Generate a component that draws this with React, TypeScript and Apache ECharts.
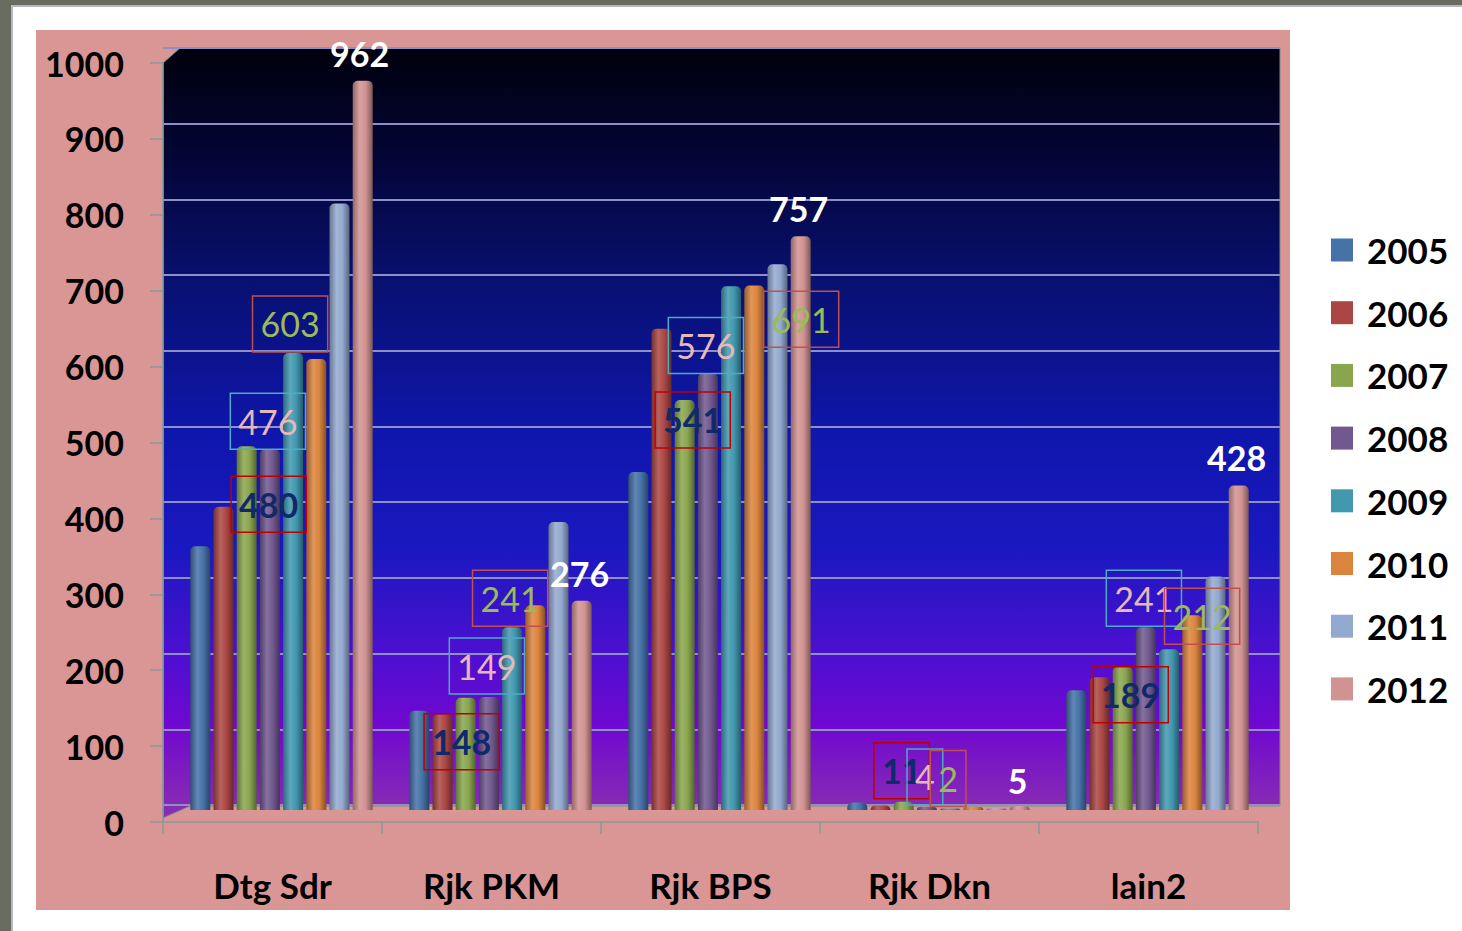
import React, { useEffect, useRef } from "react";
import * as echarts from "echarts";

const categories = ["Dtg Sdr", "Rjk PKM", "Rjk BPS", "Rjk Dkn", "lain2"];
const years = ["2005", "2006", "2007", "2008", "2009", "2010", "2011", "2012"];
const v2005 = [348, 131, 446, 10, 158];
const v2006 = [400, 126, 635, 6, 175];
const v2007 = [480, 148, 541, 11, 189];
const v2008 = [476, 149, 576, 4, 241];
const v2009 = [603, 241, 691, 2, 212];
const v2010 = [595, 270, 692, 4, 257];
const v2011 = [800, 380, 720, 2, 308];
const v2012 = [962, 276, 757, 5, 428];
const yTicks = [0, 100, 200, 300, 400, 500, 600, 700, 800, 900, 1000];

const seriesValues = [v2005, v2006, v2007, v2008, v2009, v2010, v2011, v2012];
const colors = ["#4572a7", "#aa4643", "#89a54e", "#71588f", "#4198af", "#db843d", "#93a9cf", "#d19392"];

// label nudges (layout only)
const nudges: Record<number, number[][]> = {
  2: [[22, 86], [-4, 72], [8, 48], [-2, -3], [8, 56]],
  3: [[-2, 0], [-2, -3], [-2, 0], [-2, -2], [-2, -1]],
  4: [[-3, -1], [-2, -1], [70, 61], [-2, -2], [33, -5]],
  7: [[-3, -7], [-2, -7], [-2, -8], [-2, -6], [-2, -8]],
};

function mix(hex: string, target: number, t: number) {
  const n = parseInt(hex.slice(1), 16);
  const r = (n >> 16) & 255, g = (n >> 8) & 255, b = n & 255;
  const f = (c: number) => Math.round(c + (target - c) * t);
  return `rgb(${f(r)},${f(g)},${f(b)})`;
}

const FONT = "Lato, 'Open Sans', sans-serif";

export default function App() {
  const ref = useRef<HTMLDivElement>(null);
  useEffect(() => {
    if (!ref.current) return;
    const chart = echarts.init(ref.current, null, { renderer: "svg" });

    const labelStyles: Record<number, any> = {
      2: { color: "#10296a", fontWeight: "bold", borderColor: "#c00000", borderWidth: 1.5, padding: [8, 8] },
      3: { color: "#e6b9b8", fontWeight: "normal", borderColor: "#4bacc6", borderWidth: 1.5, padding: [8, 8] },
      4: { color: "#9bbb59", fontWeight: "normal", borderColor: "#c0504d", borderWidth: 1.5, padding: [8, 8] },
      7: { color: "#ffffff", fontWeight: "bold" },
    };

    const barSeries = years.map((y, k) => {
      const c = colors[k];
      const grad = new echarts.graphic.LinearGradient(0, 0, 1, 0, [
        { offset: 0, color: mix(c, 0, 0.3) },
        { offset: 0.35, color: mix(c, 255, 0.15) },
        { offset: 0.65, color: c },
        { offset: 1, color: mix(c, 0, 0.4) },
      ]);
      const ls = labelStyles[k];
      return {
        name: y,
        type: "bar",
        xAxisIndex: 1,
        yAxisIndex: 1,
        barWidth: 20,
        barGap: "16%",
        z: 5,
        itemStyle: { color: grad, borderRadius: [5, 5, 0, 0] },
        data: seriesValues[k].map((v, i) => {
          const item: any = { value: v };
          if (ls) {
            item.label = {
              show: true,
              position: "top",
              distance: 0,
              offset: nudges[k][i],
              fontFamily: FONT,
              fontSize: 34,
              lineHeight: 40,
              ...ls,
            };
          }
          return item;
        }),
      };
    });

    const option: any = {
      animation: false,
      backgroundColor: "#ffffff",
      graphic: [
        { type: "rect", z: -10, silent: true, shape: { x: 0, y: 0, width: 1462, height: 5 }, style: { fill: "#686b5f" } },
        { type: "rect", z: -10, silent: true, shape: { x: 0, y: 0, width: 11, height: 931 }, style: { fill: "#686b5f" } },
        { type: "rect", z: -10, silent: true, shape: { x: 11, y: 5, width: 2, height: 926 }, style: { fill: "#b8b8b8" } },
        { type: "rect", z: -10, silent: true, shape: { x: 11, y: 5, width: 1451, height: 2 }, style: { fill: "#b8b8b8" } },
        { type: "rect", z: -9, silent: true, shape: { x: 36, y: 30, width: 1254, height: 880 }, style: { fill: "#d99694" } },
        {
          type: "polygon",
          z: -8,
          silent: true,
          shape: { points: [[163, 63], [180, 48], [1280, 48], [1280, 806], [190, 806], [163, 818]] },
          style: {
            stroke: "#7f8a8a",
            lineWidth: 1,
            fill: new echarts.graphic.LinearGradient(0, 0, 0, 1, [
              { offset: 0, color: "#00000c" },
              { offset: 0.14, color: "#030535" },
              { offset: 0.3, color: "#081070" },
              { offset: 0.5, color: "#0f16ac" },
              { offset: 0.65, color: "#1a18c0" },
              { offset: 0.78, color: "#4a10d0" },
              { offset: 0.88, color: "#7008d0" },
              { offset: 1, color: "#8a30b0" },
            ]),
          },
        },
      ],
      legend: {
        orient: "vertical",
        left: 1326,
        top: 225,
        itemWidth: 22,
        itemHeight: 23,
        itemGap: 22.7,
        icon: "rect",
        selectedMode: false,
        textStyle: { fontFamily: FONT, fontSize: 35, fontWeight: "bold", color: "#000", lineHeight: 40, padding: [0, 0, 0, 9] },
        data: years.map((y, k) => ({ name: y, itemStyle: { color: colors[k] } })),
      },
      grid: [
        { left: 163, top: 63, width: 1095, height: 759 },
        { left: 172, top: 52, width: 1095, height: 758 },
        { left: 163, top: 48, width: 1117, height: 757 },
      ],
      xAxis: [
        {
          gridIndex: 0,
          type: "category",
          data: categories,
          axisLine: { show: true, lineStyle: { color: "#8a9a98", width: 1.5 } },
          axisTick: { show: true, length: 12, lineStyle: { color: "#8a9a98", width: 1.5 } },
          axisLabel: { fontFamily: FONT, fontSize: 35, fontWeight: "bold", color: "#000", margin: 43, lineHeight: 40 },
          z: 3,
        },
        { gridIndex: 1, type: "category", data: categories, show: false },
        { gridIndex: 2, type: "value", min: 0, max: 1, show: false },
      ],
      yAxis: [
        {
          gridIndex: 0,
          type: "value",
          min: 0,
          max: 1000,
          interval: 100,
          axisLine: { show: true, lineStyle: { color: "#8a9a98", width: 1.5 } },
          axisTick: { show: true, length: 13, lineStyle: { color: "#8a9a98", width: 1.5 } },
          axisLabel: {
            fontFamily: FONT,
            fontSize: 34,
            fontWeight: "bold",
            color: "#000",
            margin: 39,
            formatter: (v: number) => (yTicks.includes(v) ? String(v) : ""),
          },
          splitLine: { show: false },
          z: 3,
        },
        { gridIndex: 1, type: "value", min: 0, max: 1000, show: false },
        {
          gridIndex: 2,
          type: "value",
          min: 0,
          max: 1000,
          interval: 100,
          axisLine: { show: false },
          axisTick: { show: false },
          axisLabel: { show: false },
          splitLine: { show: true, lineStyle: { color: "#8c90c4", width: 2 } },
        },
      ],
      series: [
        ...barSeries,
        { type: "line", xAxisIndex: 2, yAxisIndex: 2, data: [], silent: true },
      ],
    };
    chart.setOption(option);
    return () => chart.dispose();
  }, []);
  return <div ref={ref} style={{ position: "absolute", left: 0, top: 0, width: 1462, height: 931 }} />;
}
